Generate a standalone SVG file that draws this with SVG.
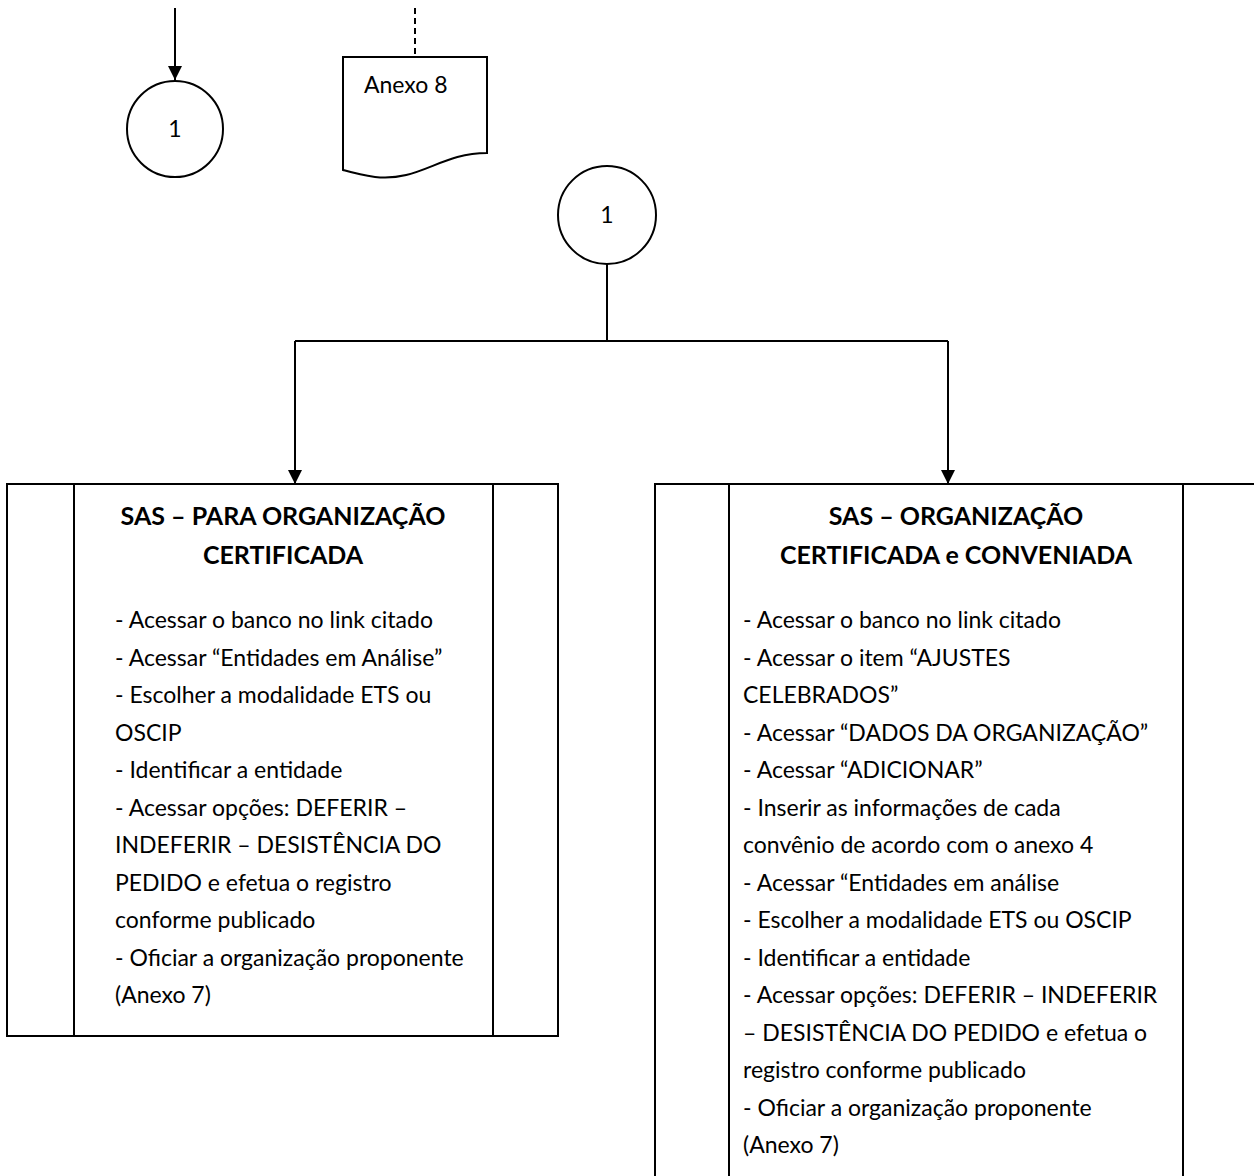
<svg xmlns="http://www.w3.org/2000/svg" width="1254" height="1176" viewBox="0 0 1254 1176">
<style>
.ln{fill:none;stroke:#000;stroke-width:2}
.sh{fill:#fff;stroke:#000;stroke-width:2}
.t{font-family:Lato,"Open Sans",sans-serif;font-size:23px;fill:#000}
.b{font-weight:bold;text-anchor:middle;font-size:25px}
.c{text-anchor:middle}
</style>
<defs>
<marker id="ah" markerWidth="14" markerHeight="14" refX="14" refY="7" orient="auto" markerUnits="userSpaceOnUse">
<path d="M0,0 L14,7 L0,14 Z" fill="#000"/>
</marker>
</defs>
<rect width="1254" height="1176" fill="#fff"/>
<g id="connectors">
<line class="ln" x1="175" y1="8" x2="175" y2="80" marker-end="url(#ah)"/>
<line class="ln" x1="415" y1="8" x2="415" y2="57" stroke-dasharray="6,4"/>
<polyline class="ln" points="607,264 607,341"/>
<polyline class="ln" points="295,341 948,341"/>
<line class="ln" x1="295" y1="341" x2="295" y2="484" marker-end="url(#ah)"/>
<line class="ln" x1="948" y1="341" x2="948" y2="484" marker-end="url(#ah)"/>
</g>
<g id="conn1">
<circle class="sh" cx="175" cy="129" r="48"/>
<text class="t c" x="175" y="137">1</text>
</g>
<g id="anexo8">
<path class="sh" d="M343,57 H487 V153 C440,153 420,182 375,177 C360,175 350,172 343,170 Z"/>
<text class="t" x="364" y="93">Anexo 8</text>
</g>
<g id="conn1b">
<circle class="sh" cx="607" cy="215" r="49"/>
<text class="t c" x="607" y="223">1</text>
</g>
<g id="left">
<rect class="sh" x="7" y="484" width="551" height="552"/>
<line class="ln" x1="74" y1="484" x2="74" y2="1036"/>
<line class="ln" x1="493" y1="484" x2="493" y2="1036"/>
<text class="t b" x="283" y="525">SAS – PARA ORGANIZAÇÃO</text>
<text class="t b" x="283" y="564">CERTIFICADA</text>
<text class="t" x="115" y="628">- Acessar o banco no link citado</text>
<text class="t" x="115" y="666">- Acessar “Entidades em Análise”</text>
<text class="t" x="115" y="703">- Escolher a modalidade ETS ou</text>
<text class="t" x="115" y="741">OSCIP</text>
<text class="t" x="115" y="778">- Identificar a entidade</text>
<text class="t" x="115" y="816">- Acessar opções: DEFERIR –</text>
<text class="t" x="115" y="853">INDEFERIR – DESISTÊNCIA DO</text>
<text class="t" x="115" y="891">PEDIDO e efetua o registro</text>
<text class="t" x="115" y="928">conforme publicado</text>
<text class="t" x="115" y="966">- Oficiar a organização proponente</text>
<text class="t" x="115" y="1003">(Anexo 7)</text>
</g>
<g id="right">
<rect class="sh" x="655" y="484" width="610" height="700"/>
<line class="ln" x1="729" y1="484" x2="729" y2="1176"/>
<line class="ln" x1="1183" y1="484" x2="1183" y2="1176"/>
<text class="t b" x="956" y="525">SAS – ORGANIZAÇÃO</text>
<text class="t b" x="956" y="564">CERTIFICADA e CONVENIADA</text>
<text class="t" x="743" y="628">- Acessar o banco no link citado</text>
<text class="t" x="743" y="666">- Acessar o item “AJUSTES</text>
<text class="t" x="743" y="703">CELEBRADOS”</text>
<text class="t" x="743" y="741">- Acessar “DADOS DA ORGANIZAÇÃO”</text>
<text class="t" x="743" y="778">- Acessar “ADICIONAR”</text>
<text class="t" x="743" y="816">- Inserir as informações de cada</text>
<text class="t" x="743" y="853">convênio de acordo com o anexo 4</text>
<text class="t" x="743" y="891">- Acessar “Entidades em análise</text>
<text class="t" x="743" y="928">- Escolher a modalidade ETS ou OSCIP</text>
<text class="t" x="743" y="966">- Identificar a entidade</text>
<text class="t" x="743" y="1003">- Acessar opções: DEFERIR – INDEFERIR</text>
<text class="t" x="743" y="1041">– DESISTÊNCIA DO PEDIDO e efetua o</text>
<text class="t" x="743" y="1078">registro conforme publicado</text>
<text class="t" x="743" y="1116">- Oficiar a organização proponente</text>
<text class="t" x="743" y="1153">(Anexo 7)</text>
</g>
</svg>
